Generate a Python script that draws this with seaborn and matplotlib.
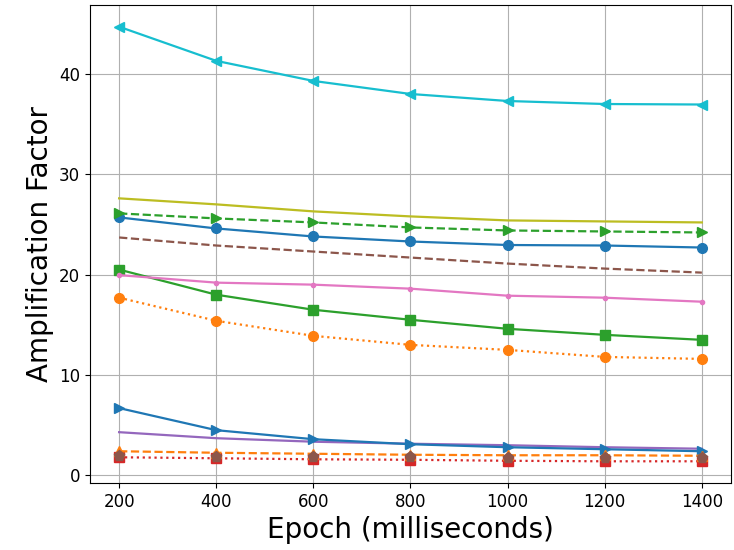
import matplotlib
matplotlib.use("Agg")
import matplotlib.pyplot as plt
import seaborn as sns
import pandas as pd

epochs = [200, 400, 600, 800, 1000, 1200, 1400]

blue_circle = [25.7, 24.6, 23.8, 23.3, 22.95, 22.9, 22.7]
orange_circle = [17.7, 15.4, 13.9, 13.0, 12.5, 11.8, 11.6]
green_square = [20.5, 18.0, 16.5, 15.5, 14.6, 14.0, 13.5]
red_square = [1.8, 1.7, 1.6, 1.55, 1.45, 1.4, 1.4]
purple_plain = [4.3, 3.7, 3.35, 3.15, 3.0, 2.8, 2.65]
brown_dashed = [23.7, 22.9, 22.3, 21.7, 21.1, 20.6, 20.2]
pink_point = [19.95, 19.2, 19.0, 18.6, 17.9, 17.7, 17.3]
olive_plain = [27.6, 27.0, 26.3, 25.8, 25.4, 25.3, 25.2]
cyan_left = [44.7, 41.3, 39.3, 38.0, 37.3, 37.0, 36.95]
blue_right = [6.7, 4.5, 3.6, 3.1, 2.8, 2.6, 2.4]
orange_up = [2.4, 2.25, 2.15, 2.05, 2.0, 2.0, 1.95]
green_right = [26.1, 25.6, 25.2, 24.7, 24.4, 24.3, 24.2]
brown_pentagon = [1.9, 1.85, 1.8, 1.8, 1.75, 1.75, 1.75]

palette = sns.color_palette("tab10")

# (values, colour index, marker, linestyle, markersize)
series = [
    (blue_circle, 0, "o", "-", 7),
    (orange_circle, 1, "o", ":", 7),
    (green_square, 2, "s", "-", 6.5),
    (red_square, 3, "s", ":", 6.5),
    (purple_plain, 4, None, "-", 6),
    (brown_dashed, 5, None, "--", 6),
    (pink_point, 6, ".", "-", 6),
    (olive_plain, 8, None, "-", 6),
    (cyan_left, 9, "<", "-", 6.5),
    (blue_right, 0, ">", "-", 6.5),
    (orange_up, 1, "^", "--", 6.5),
    (green_right, 2, ">", "--", 6.5),
    (brown_pentagon, 5, "p", "", 8),
]

fig = plt.figure(figsize=(7.34, 5.5), dpi=100)
ax = fig.add_axes([0.1226, 0.1218, 0.8733, 0.8691])

for vals, ci, mk, ls, ms in series:
    df = pd.DataFrame({"epoch": epochs, "amp": vals})
    sns.lineplot(data=df, x="epoch", y="amp", ax=ax, color=palette[ci],
                 marker=mk, linestyle=ls if ls else "none", markersize=ms,
                 markeredgecolor=palette[ci], markeredgewidth=1.0,
                 linewidth=1.6)

ax.set_xticks(epochs)
ax.set_yticks([0, 10, 20, 30, 40])
ax.tick_params(labelsize=12)
ax.set_xlabel("Epoch (milliseconds)", fontsize=20)
ax.set_ylabel("Amplification Factor", fontsize=20)
ax.grid(True, color="#b0b0b0", linewidth=0.8)
ax.set_axisbelow(True)

fig.savefig("out.png", dpi=100)
